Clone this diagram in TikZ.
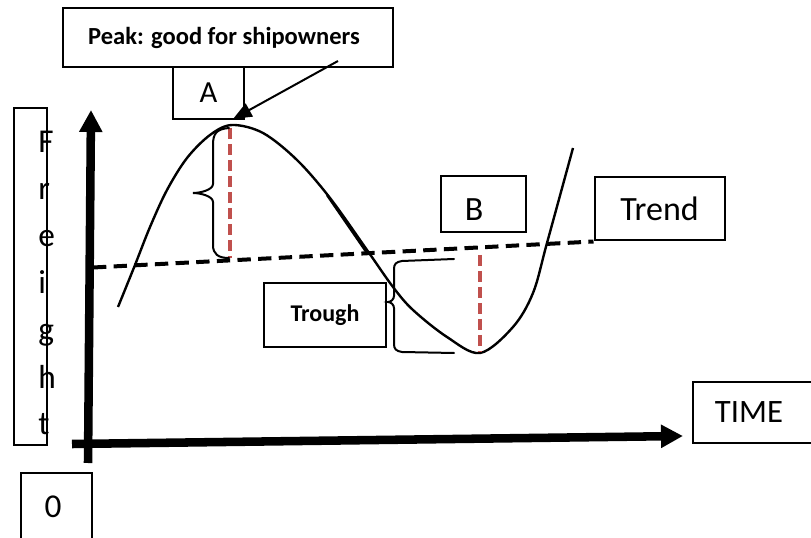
\documentclass[tikz,border=0pt]{standalone}
\usepackage{fontspec}
\setmainfont{Carlito}
\usepackage{xcolor}
\usetikzlibrary{arrows.meta}
\definecolor{dashred}{RGB}{192,80,77}

\begin{document}
\begin{tikzpicture}[
    x=0.75pt, y=-0.75pt,
    box/.style={rectangle, draw, line width=1.5pt, inner sep=0pt, align=center},
    bigtext/.style={font=\fontsize{25.5}{30}\selectfont},
    axisarrow/.style={line width=6.4pt, -{Triangle[length=16.5pt, width=16.5pt]}},
    freightcurve/.style={line width=1.8pt, line join=round},
    trendline/.style={line width=3pt, dash pattern=on 10pt off 5.5pt},
    redmark/.style={dashred, line width=2.6pt, dash pattern=on 8pt off 4pt},
    bracket/.style={line width=1.5pt, line cap=round}
]
\useasboundingbox (0,0) rectangle (811,538);
\clip (0,0) rectangle (811,538);

% label boxes
\node[box, minimum width=247pt, minimum height=43.8pt, label={[font=\bfseries\fontsize{18.4}{22}\selectfont, xshift=-3pt]center:Peak: good for shipowners}] (peakbox) at (228,37.5) {};
\node[box, minimum width=53.7pt, minimum height=39.2pt, font=\fontsize{23}{27}\selectfont] (A) at (208.5,92.8) {A};
\node[box, minimum width=63.75pt, minimum height=42pt, label={[bigtext, xshift=-7.1pt, yshift=-4.1pt]center:B}] (B) at (483.5,204) {};
\node[box, minimum width=97.5pt, minimum height=47.25pt, bigtext] (Trend) at (659.5,209) {Trend};
\node[box, minimum width=91.5pt, minimum height=48pt, font=\bfseries\fontsize{18}{22}\selectfont] (Trough) at (325,315) {Trough};
\node[box, minimum width=91.5pt, minimum height=45.75pt, label={[font=\fontsize{24.5}{29}\selectfont, xshift=-3.75pt]center:TIME}] (TIME) at (754,412.5) {};
\node[box, minimum width=53.25pt, minimum height=51pt, label={[font=\fontsize{25}{30}\selectfont, xshift=-2.5pt]center:0}] (zero) at (56.5,507) {};

% vertical axis label
\node[box, minimum width=24.75pt, minimum height=252.75pt] (freightbox) at (30.5,276.5) {};
\foreach \ch [count=\i from 0] in {F,r,e,i,g,h,t}
  \node[font=\fontsize{25}{30}\selectfont, inner sep=0pt, anchor=base west] (freight\i) at (38,{153+47*\i}) {\ch};

% axes
\coordinate (origin) at (88,463);
\coordinate (ytop) at (91,110);
\coordinate (xstart) at (72,444);
\coordinate (xend) at (683,436);
\draw[axisarrow] (origin) -- (ytop);
\draw[axisarrow] (xstart) -- (xend);

% trend
\coordinate (trendstart) at (93,267.5);
\draw[trendline] (trendstart) -- (Trend.south west);

% freight cycle
\draw[freightcurve] plot[smooth, tension=0.55] coordinates {(118,307) (135,265) (150,227) (167,190) (187,158) (210,135) (232,125) (263,133) (297,160) (330,198) (367,250) (393,287) (413,310) (447,337) (480,353) (513,327) (533,293) (547,243) (573,148)};
\draw[freightcurve] (327,195) -- (367,253);

% distance to trend
\draw[redmark] (230,128) -- (230,258);
\draw[redmark] (480,255) -- (480,352);
\draw[bracket] (229,128) .. controls (216,129) and (213,134) .. (213,145) -- (213,184)
  .. controls (213,190) and (200,193) .. (193,193) .. controls (200,193) and (213,196) .. (213,202)
  -- (213,245) .. controls (213,254) and (218,258) .. (229,258);
\draw[bracket] (454,259) -- (402,261) .. controls (396,262) and (394,264) .. (394,269) -- (394,296)
  .. controls (394,299) and (391,302) .. (388,302) .. controls (391,302) and (394,305) .. (394,308)
  -- (394,344) .. controls (394,349) and (396,351) .. (402,352) -- (454,353);

% peak pointer
\coordinate (peakfrom) at (338,61);
\coordinate (peaktip) at (233,119);
\draw[line width=1.5pt, -{Triangle[length=14pt, width=11pt]}] (peakfrom) -- (peaktip);
\end{tikzpicture}
\end{document}
